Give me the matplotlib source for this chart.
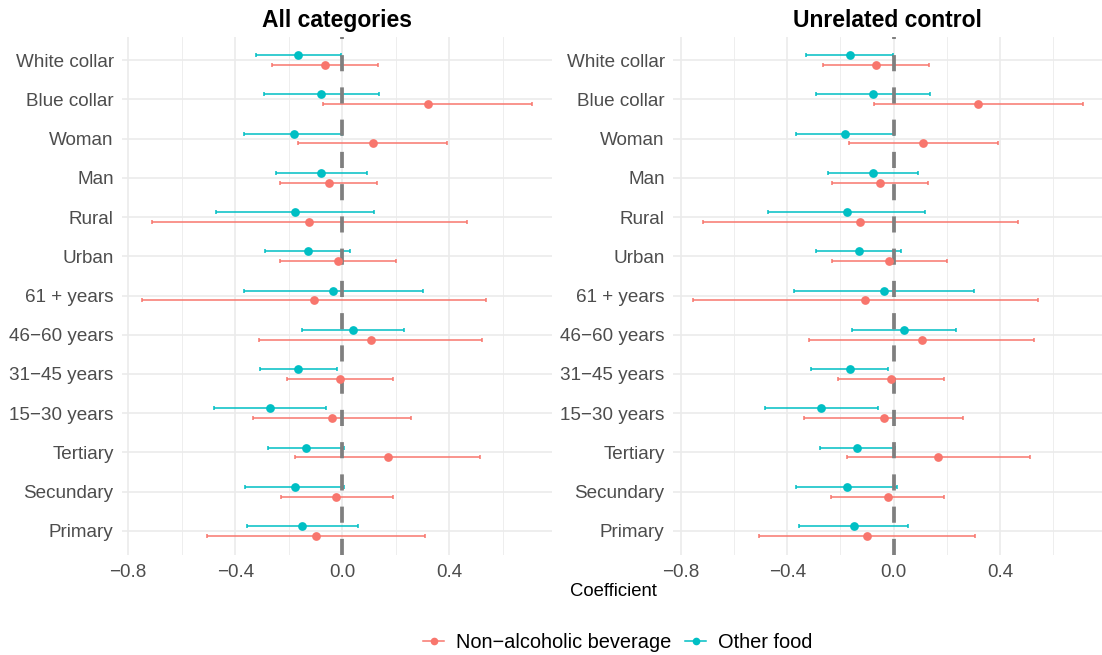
import matplotlib
matplotlib.use('Agg')
import matplotlib.pyplot as plt
from matplotlib.lines import Line2D
from matplotlib.ticker import FixedLocator, FuncFormatter
import numpy as np

plt.rcParams['font.family'] = ['Liberation Sans', 'DejaVu Sans']

# categories, listed top to bottom
categories = ['White collar', 'Blue collar', 'Woman', 'Man', 'Rural', 'Urban',
              '61 + years', '46\u221260 years', '31\u221245 years', '15\u221230 years',
              'Tertiary', 'Secundary', 'Primary']

# All categories
all_bev_est = [-0.064, 0.320, 0.114, -0.051, -0.123, -0.016, -0.105, 0.107, -0.010, -0.037, 0.169, -0.022, -0.099]
all_bev_lo = [-0.264, -0.073, -0.165, -0.232, -0.712, -0.232, -0.750, -0.311, -0.207, -0.332, -0.176, -0.229, -0.507]
all_bev_hi = [0.134, 0.710, 0.392, 0.130, 0.467, 0.200, 0.538, 0.522, 0.188, 0.258, 0.513, 0.188, 0.310]
all_food_est = [-0.165, -0.078, -0.182, -0.079, -0.177, -0.130, -0.035, 0.040, -0.165, -0.270, -0.135, -0.178, -0.150]
all_food_lo = [-0.323, -0.291, -0.368, -0.248, -0.471, -0.289, -0.369, -0.152, -0.309, -0.480, -0.276, -0.363, -0.355]
all_food_hi = [-0.006, 0.136, 0.000, 0.091, 0.118, 0.027, 0.300, 0.232, -0.021, -0.061, 0.006, 0.007, 0.058]

# Unrelated control
ctl_bev_est = [-0.067, 0.318, 0.112, -0.052, -0.125, -0.019, -0.106, 0.105, -0.010, -0.037, 0.168, -0.022, -0.099]
ctl_bev_lo = [-0.267, -0.074, -0.167, -0.233, -0.716, -0.233, -0.757, -0.319, -0.208, -0.337, -0.177, -0.235, -0.508]
ctl_bev_hi = [0.135, 0.711, 0.393, 0.131, 0.468, 0.200, 0.543, 0.530, 0.190, 0.261, 0.515, 0.188, 0.307]
ctl_food_est = [-0.166, -0.077, -0.182, -0.079, -0.177, -0.132, -0.035, 0.039, -0.166, -0.272, -0.136, -0.177, -0.150]
ctl_food_lo = [-0.328, -0.293, -0.369, -0.247, -0.474, -0.291, -0.374, -0.158, -0.311, -0.484, -0.277, -0.368, -0.358]
ctl_food_hi = [-0.002, 0.138, 0.002, 0.091, 0.119, 0.026, 0.303, 0.236, -0.020, -0.060, 0.005, 0.011, 0.056]

series_names = ['Non\u2212alcoholic beverage', 'Other food']
colors = ['#F8766D', '#00BFC4']

W, H = 1102, 655
fig = plt.figure(figsize=(W / 100, H / 100), dpi=100)
fig.patch.set_facecolor('white')


def draw_panel(ax, title, groups):
    n = len(categories)
    ypos = n - np.arange(n)
    offsets = [-0.125, 0.125]
    for (est, lo, hi), color, off in zip(groups, colors, offsets):
        est = np.array(est)
        xerr = [est - np.array(lo), np.array(hi) - est]
        ax.errorbar(est, ypos + off, xerr=xerr, fmt='none', ecolor=color,
                    elinewidth=1.1, capsize=1.6, capthick=1.1, zorder=3)
    # reference line at zero, drawn bottom to top
    ax.plot([0, 0], [0.4, n + 0.6], color='#7F7F7F', lw=2.7,
            dashes=(4.3, 4.3), solid_capstyle='butt', dash_capstyle='butt', zorder=4)
    for (est, lo, hi), color, off in zip(groups, colors, offsets):
        ax.plot(est, ypos + off, 'o', color=color, ms=6.3, mew=0, zorder=5)

    ax.set_ylim(0.4, n + 0.6)
    ax.margins(x=0.05)
    ax.set_yticks(ypos)
    ax.set_yticklabels(categories)
    ax.xaxis.set_major_locator(FixedLocator([-0.8, -0.4, 0.0, 0.4]))
    ax.xaxis.set_minor_locator(FixedLocator([-0.6, -0.2, 0.2, 0.6]))
    ax.xaxis.set_major_formatter(FuncFormatter(lambda v, p: f'{v:.1f}'.replace('-', '\u2212')))
    ax.grid(True, which='major', color='#EBEBEB', lw=1.2, zorder=0)
    ax.grid(True, which='minor', axis='x', color='#EBEBEB', lw=0.6, zorder=0)
    ax.set_axisbelow(True)
    for s in ax.spines.values():
        s.set_visible(False)
    ax.tick_params(axis='both', which='both', length=0, labelsize=13.6, labelcolor='#4D4D4D')
    ax.tick_params(axis='y', pad=6)
    ax.tick_params(axis='x', pad=7)
    ax.set_title(title, fontsize=16.5, fontweight='bold', pad=7)


ax1 = fig.add_axes([122 / W, 100.5 / H, 430 / W, 518 / H])
ax2 = fig.add_axes([673 / W, 100.5 / H, 429 / W, 518 / H])

draw_panel(ax1, 'All categories',
           [(all_bev_est, all_bev_lo, all_bev_hi), (all_food_est, all_food_lo, all_food_hi)])
draw_panel(ax2, 'Unrelated control',
           [(ctl_bev_est, ctl_bev_lo, ctl_bev_hi), (ctl_food_est, ctl_food_lo, ctl_food_hi)])

fig.text(613 / W, 1 - 592 / H, 'Coefficient', ha='center', va='center', fontsize=13.3)

handles = [Line2D([], [], color=c, marker='o', ms=5.5, mew=0, lw=1.1) for c in colors]
fig.legend(handles, series_names, loc='center', bbox_to_anchor=(618 / W, 1 - 642 / H),
           ncol=2, frameon=False, fontsize=14.4, handlelength=1.05,
           handletextpad=0.6, columnspacing=0.67)

fig.savefig('out.png', dpi=100)
